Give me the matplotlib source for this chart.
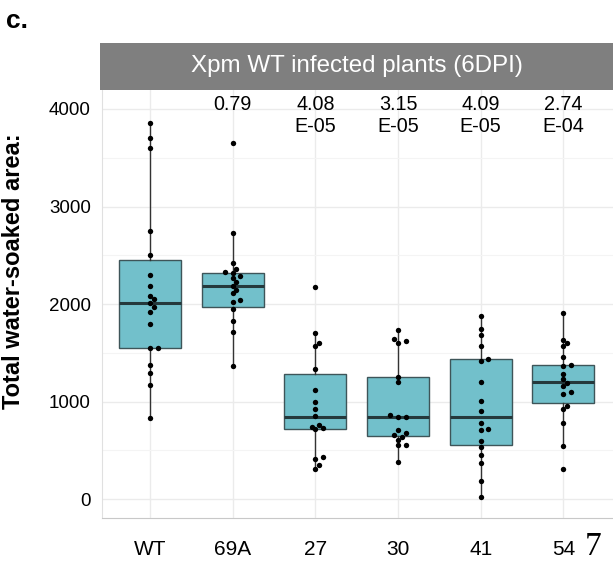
import matplotlib

matplotlib.use("Agg")
import matplotlib.pyplot as plt


# Data
GROUPS = ["WT", "69A", "27", "30", "41", "54"]

P_VALUES = ["", "0.79", "4.08\nE-05", "3.15\nE-05", "4.09\nE-05", "2.74\nE-04"]

Q1 = [1549, 1966, 715, 646, 554, 981]
MEDIAN = [2010, 2184, 844, 844, 844, 1203]
Q3 = [2451, 2321, 1279, 1248, 1433, 1374]
WHISKER_LOW = [827, 1364, 308, 383, 17, 544]
WHISKER_HIGH = [3860, 2725, 1699, 1733, 1877, 1904]

WT_POINTS = [3860, 3699, 3603, 2749, 2503, 2297, 2184, 2082, 2048, 2014,
             1966, 1921, 1795, 1552, 1552, 1374, 1288, 1169, 827]
L69A_POINTS = [3655, 2725, 2424, 2356, 2332, 2315, 2287, 2263, 2229, 2184,
               2144, 2116, 2041, 2024, 1946, 1826, 1710, 1364]
L27_POINTS = [2174, 1699, 1597, 1569, 1337, 1118, 998, 920, 851, 759,
              742, 725, 715, 428, 407, 349, 308]
L30_POINTS = [1733, 1638, 1620, 1597, 1255, 1203, 862, 844, 844, 708, 674,
              656, 632, 605, 554, 554, 383]
L41_POINTS = [1877, 1740, 1682, 1569, 1433, 1415, 1203, 1009, 906, 783,
              715, 708, 598, 537, 451, 373, 188, 17]
L54_POINTS = [1904, 1631, 1597, 1569, 1453, 1374, 1364, 1282, 1228, 1187,
              1159, 1101, 1077, 954, 920, 783, 544, 305]

ALL_POINTS = [WT_POINTS, L69A_POINTS, L27_POINTS, L30_POINTS, L41_POINTS, L54_POINTS]

BOX_FILL = "#72c0cb"
BOX_EDGE = "#3e5559"
STRIP_GREY = "#7f7f7f"
GRID_GREY = "#ebebeb"

FONT = "Liberation Sans"


def swarm_offsets(values, y_px_per_unit, x_px_per_unit, dot_px=4.5):
    """Small beeswarm: push dots sideways when they would overlap."""
    order = sorted(range(len(values)), key=lambda i: values[i])
    placed = []
    offsets = [0.0] * len(values)
    step = dot_px * 0.85
    for i in order:
        y = values[i] * y_px_per_unit
        for k in [0, 1, -1, 2, -2, 3, -3]:
            x = k * step
            clash = any((x - px) ** 2 + (y - py) ** 2 < dot_px ** 2 for px, py in placed)
            if not clash:
                break
        placed.append((x, y))
        offsets[i] = x / x_px_per_unit
    return offsets


def main() -> None:
    fig = plt.figure(figsize=(6.13, 5.61), dpi=100)
    ax_rect = [0.1664, 0.0766, 0.8336, 0.7630]
    ax = fig.add_axes(ax_rect)

    ylim = (-195, 4195)
    xlim = (-0.58, 5.6)
    ax.set_ylim(*ylim)
    ax.set_xlim(*xlim)

    stats = []
    for i, name in enumerate(GROUPS):
        stats.append({
            "label": name,
            "q1": Q1[i],
            "med": MEDIAN[i],
            "q3": Q3[i],
            "whislo": WHISKER_LOW[i],
            "whishi": WHISKER_HIGH[i],
            "fliers": [],
        })

    ax.bxp(
        stats,
        positions=range(len(GROUPS)),
        widths=0.75,
        patch_artist=True,
        showcaps=False,
        boxprops=dict(facecolor=BOX_FILL, edgecolor=BOX_EDGE, linewidth=1.0),
        medianprops=dict(color="#25393c", linewidth=2.2),
        whiskerprops=dict(color="#333333", linewidth=1.0),
        zorder=2,
    )

    # pixel scale for the swarm layout
    ax_h_px = ax_rect[3] * 561
    ax_w_px = ax_rect[2] * 613
    y_px = ax_h_px / (ylim[1] - ylim[0])
    x_px = ax_w_px / (xlim[1] - xlim[0])

    for i, values in enumerate(ALL_POINTS):
        offsets = swarm_offsets(values, y_px, x_px)
        xs = [i + off for off in offsets]
        ax.scatter(xs, values, s=15, color="black", zorder=3, linewidths=0)

    # p-value annotations above each line
    for i, label in enumerate(P_VALUES):
        if not label:
            continue
        ax.text(i, 4140, label, ha="center", va="top", fontsize=14.2,
                family=FONT, linespacing=1.2, zorder=4)

    # grid
    ax.set_yticks([0, 1000, 2000, 3000, 4000])
    ax.set_yticks([500, 1500, 2500, 3500], minor=True)
    ax.grid(True, which="major", color=GRID_GREY, linewidth=1.0, zorder=0)
    ax.grid(True, which="minor", axis="y", color="#f4f4f4", linewidth=0.8, zorder=0)
    ax.set_axisbelow(True)

    ax.set_xticks(range(len(GROUPS)))
    ax.set_xticklabels(GROUPS, fontsize=15, family=FONT)
    ax.set_yticklabels(["0", "1000", "2000", "3000", "4000"], fontsize=13.5, family=FONT)
    ax.tick_params(axis="both", which="both", length=0, pad=8)
    ax.tick_params(axis="x", pad=16)

    for side in ["top", "right"]:
        ax.spines[side].set_visible(False)
    ax.spines["left"].set_color("#e0e0e0")
    ax.spines["bottom"].set_color("#c8c8c8")

    # facet strip
    strip = fig.add_axes([0.1631, 0.8396, 0.8369, 0.0838])
    strip.set_facecolor(STRIP_GREY)
    strip.set_xticks([])
    strip.set_yticks([])
    for spine in strip.spines.values():
        spine.set_visible(False)
    strip.text(0.5, 0.5, "Xpm WT infected plants (6DPI)", color="white",
               ha="center", va="center", fontsize=17.4, family=FONT,
               transform=strip.transAxes)

    ax.set_ylabel("Total water-soaked area:", fontsize=17, fontweight="bold",
                  family=FONT)
    ax.yaxis.set_label_coords(-0.151, 0.577)

    fig.text(0.010, 0.962, "c.", fontsize=19, fontweight="bold", family=FONT,
             ha="left", va="center")
    fig.text(0.968, 0.026, "7", fontsize=24, family="Liberation Serif",
             ha="center", va="center")

    plt.savefig("out.png", dpi=100)
    plt.close()


if __name__ == "__main__":
    main()
